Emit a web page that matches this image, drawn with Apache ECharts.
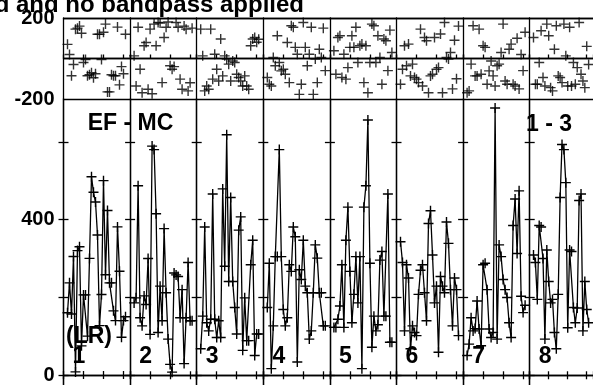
<!DOCTYPE html>
<html><head><meta charset="utf-8">
<script src="https://cdn.jsdelivr.net/npm/echarts@6/dist/echarts.min.js"></script>
<style>html,body{margin:0;padding:0;background:#fff}#c{width:593px;height:385px}</style>
</head><body><div id="c"></div>
<script>
// ---- data ----
const channels = [2,3,4,5,6,7,8,9,10,11,12,13,14,15,16,17,18,19,20,21,22,23,24,25,26,27,28,29,30,31];
const amp1 = [160,237,157,305,8,320,330,75,206,206,100,300,510,470,445,360,127,207,500,258,423,237,237,165,140,381,267,97,140,150];
const amp2 = [186,199,487,148,127,204,182,300,105,589,580,415,110,229,140,377,212,93,28,8,263,258,254,148,220,30,148,290,140,140];
const amp3 = [68,152,381,135,114,144,466,144,97,140,97,479,280,618,241,457,241,174,106,373,407,64,199,89,89,284,347,51,106,106];
const amp4 = [174,288,17,127,305,305,580,305,169,127,148,284,267,381,356,34,271,246,347,229,212,93,114,212,335,301,212,212,127,127];
const amp5 = [123,123,144,178,284,123,347,432,267,135,208,305,186,305,17,432,487,656,288,72,152,114,130,296,318,152,152,466,85,85];
const amp6 = [343,290,114,284,250,68,127,110,102,208,270,284,212,140,390,423,309,186,229,59,254,229,212,394,339,220,127,250,220,102];
const amp7 = [51,80,148,114,120,191,119,76,284,288,220,119,97,110,687,93,335,305,246,220,200,135,97,385,453,313,474,203,161,180];
const amp8 = [309,290,195,385,381,300,93,322,241,186,195,110,68,208,457,593,580,495,122,322,318,174,135,173,449,466,114,241,169,135];
const ph1 = [70,20,-85,-30,145,150,160,125,-20,-5,-85,-80,-70,-95,-75,120,120,-5,130,170,-165,-165,-80,-85,-85,155,-130,-40,-75,120];
const ph2 = [13,-136,154,-53,-169,63,79,-152,145,-174,170,63,178,175,-119,104,154,180,-36,-53,-40,178,154,-102,-152,160,145,-160,-120,150];
const ph3 = [145,13,-160,-136,-152,145,-102,21,-53,-111,96,-86,13,-3,-28,-111,-12,-20,-78,-94,-111,-136,-86,-136,-152,63,96,104,80,95];
const ph4 = [-94,-127,-136,5,-36,112,-20,-61,-53,-78,79,-119,162,154,55,21,-177,-127,178,55,-36,21,154,-177,-3,-119,46,5,150,-60];
const ph5 = [38,-78,104,112,-94,21,-102,-45,55,112,55,154,-20,63,71,-119,63,-169,-20,170,162,-20,112,5,-127,96,88,-60,140,30];
const ph6 = [-127,-53,63,-36,71,-86,-28,-94,-102,-119,145,-136,104,88,-169,-86,-78,104,-53,-45,121,-169,178,5,-3,30,-150,90,-100,160];
const ph7 = [-169,-160,-28,162,-86,-86,145,-78,63,55,-127,-61,-12,-86,-136,-36,-28,30,170,-111,-127,46,71,-127,-136,100,-150,20,-60,130];
const ph8 = [104,-127,-127,-20,137,-94,-136,170,112,-144,-160,46,162,-86,-94,-119,170,13,-136,154,-136,-20,-127,-45,178,-78,-111,-144,60,-30];
const panelNames = ['1','2','3','4','5','6','7','8'];
const titleText = 'Data calibrated and no bandpass applied';
const baselineText = 'EF - MC';
const stokesText = '(LR)';
const timerangeText = '1 - 3';
const ampTickValues = [0,200,400,600];
const ampLabelValues = [0,400];
const phaseLabelValues = [-200,200];

const amps = [amp1,amp2,amp3,amp4,amp5,amp6,amp7,amp8];
const phs = [ph1,ph2,ph3,ph4,ph5,ph6,ph7,ph8];

// ---- layout ----
const W = 593, H = 385;
const PL = 63.5, PW = 66.6;
const TOPY = 18, MIDY = 99, BOTY = 388;
const PLUS = 'path://M5,0L5,10M0,5L10,5';
const lab = {color:'#000', fontFamily:'"Liberation Sans", Arial, sans-serif', fontWeight:'bold', fontSize:20, margin:9};
const blk = {color:'#000', width:1.3};

const grid = [], xAxis = [], yAxis = [], series = [], graphic = [];
for (let k = 0; k < 8; k++) {
  const left = PL + k * PW;
  const right = W - (left + PW);
  grid.push({left: left, right: right, top: TOPY, height: MIDY - TOPY});
}
for (let k = 0; k < 8; k++) {
  const left = PL + k * PW;
  const right = W - (left + PW);
  grid.push({left: left, right: right, top: MIDY, bottom: H - BOTY});
}
const xBase = {type:'value', min:0, max:33.3, interval:10, splitLine:{show:false}, axisLabel:{show:false}};
for (let k = 0; k < 8; k++) {
  xAxis.push(Object.assign({}, xBase, {gridIndex:k, position:'bottom', axisLine:{lineStyle:blk}, axisTick:{inside:true, length:4, lineStyle:blk}}));
  xAxis.push(Object.assign({}, xBase, {gridIndex:k, position:'top', axisLine:{lineStyle:blk}, axisTick:{show:false}}));
  xAxis.push(Object.assign({}, xBase, {gridIndex:8+k, position:'top', axisLine:{lineStyle:blk}, axisTick:{inside:true, length:4, lineStyle:blk}}));
  xAxis.push(Object.assign({}, xBase, {gridIndex:8+k, position:'bottom', axisLine:{lineStyle:blk}, axisTick:{inside:true, length:4, lineStyle:blk}}));
}
for (let k = 0; k < 8; k++) {
  yAxis.push({type:'value', gridIndex:k, position:'left', min:-200, max:200, interval:200,
    axisLine:{show:true, lineStyle:blk}, axisTick:{show:false},
    splitLine:{show:true, lineStyle:{color:'#000', width:1.3}},
    axisLabel: k === 0 ? Object.assign({show:true, customValues:phaseLabelValues}, lab) : {show:false}});
  yAxis.push({type:'value', gridIndex:8+k, position:'left', min:-25, max:710,
    axisLine:{show:true, lineStyle:blk},
    axisTick:{show:true, inside:true, length:5, customValues:ampTickValues, lineStyle:blk},
    splitLine:{show:false},
    axisLabel: k === 0 ? Object.assign({show:true, customValues:ampLabelValues}, lab) : {show:false}});
  yAxis.push({type:'value', gridIndex:8+k, position:'right', min:-25, max:710,
    axisLine:{show:true, lineStyle:blk},
    axisTick:{show:true, inside:true, length:5, customValues:ampTickValues, lineStyle:blk},
    splitLine:{show:false}, axisLabel:{show:false}});
}
const plusStyle = {color:'rgba(0,0,0,0)', borderColor:'#000', borderWidth:1.4};
for (let k = 0; k < 8; k++) {
  series.push({type:'scatter', xAxisIndex:4*k, yAxisIndex:3*k, symbol:PLUS, symbolSize:10,
    itemStyle:plusStyle, data: channels.map((c,i)=>[c, phs[k][i]]), silent:true});
  series.push({type:'line', xAxisIndex:4*k+3, yAxisIndex:3*k+1, symbol:PLUS, symbolSize:10, showAllSymbol:true,
    itemStyle:plusStyle, lineStyle:{color:'#000', width:1.3}, data: channels.map((c,i)=>[c, amps[k][i]]), silent:true});
}
function txt(text, x, y, size, align) {
  return {type:'text', x:x, y:y, z:100, silent:true,
    style:{text:text, fill:'#000', font:'bold ' + size + 'px "Liberation Sans", Arial, sans-serif',
      textAlign:align || 'center', align:align || 'center', textVerticalAlign:'middle', verticalAlign:'middle'}};
}
graphic.push(txt(titleText, 304, 5, 24, 'right'));
graphic.push(txt(baselineText, 130.5, 124, 23));
graphic.push(txt(timerangeText, 549, 124.5, 23));
graphic.push(txt(stokesText, 89, 336.5, 23));
for (let k = 0; k < 8; k++) {
  graphic.push(txt(panelNames[k], PL + k * PW + 15.5, 356.5, 23));
}

const chart = echarts.init(document.getElementById('c'), null, {renderer:'canvas'});
chart.setOption({animation:false, backgroundColor:'#fff', grid, xAxis, yAxis, series, graphic});
</script></body></html>
